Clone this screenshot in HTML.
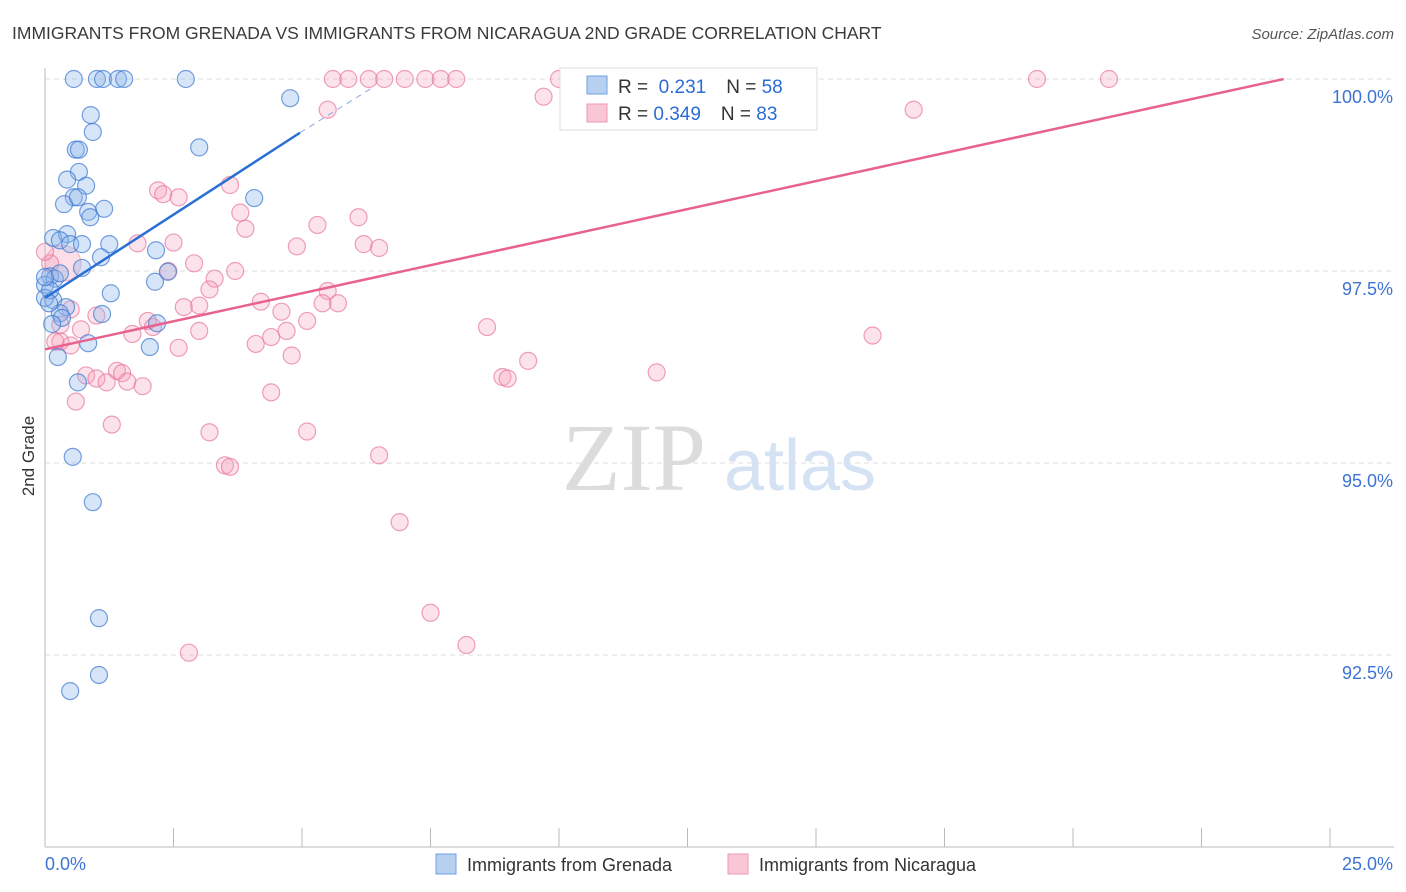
<!DOCTYPE html>
<html><head><meta charset="utf-8">
<style>
body{margin:0;background:#fff;font-family:"Liberation Sans",sans-serif;}
svg{display:block}
</style></head>
<body>
<svg id="chart" width="1406" height="892">
<text x="12" y="39" font-size="17.5" fill="#3a3a3a">IMMIGRANTS FROM GRENADA VS IMMIGRANTS FROM NICARAGUA 2ND GRADE CORRELATION CHART</text>
<text x="1394" y="39" font-size="15" fill="#555" text-anchor="end" font-style="italic">Source: ZipAtlas.com</text>
<text x="634" y="490" font-size="96" fill="#dcdcdc" font-family="Liberation Serif,serif" text-anchor="middle">ZIP</text>
<text x="800" y="490" font-size="72" fill="#d4e2f4" text-anchor="middle">atlas</text>
<g id="grid"></g><g id="axes"></g><g id="pts"></g><g id="lines"></g>
<text transform="translate(34,456) rotate(-90)" font-size="17" fill="#333" text-anchor="middle">2nd Grade</text>
<g>
<rect x="560" y="68" width="257" height="62" fill="#fff" stroke="#ddd"/>
<rect x="587" y="76" width="20" height="18" fill="#b8d0f0" stroke="#6f9fe0"/>
<rect x="587" y="104" width="20" height="18" fill="#f8c6d4" stroke="#ec9ab2"/>
<text x="618" y="93" font-size="19" fill="#333">R = <tspan fill="#2b6cd4">&#160;0.231</tspan><tspan dx="20">N = </tspan><tspan fill="#2b6cd4">58</tspan></text>
<text x="618" y="120" font-size="19" fill="#333">R = <tspan fill="#2b6cd4">0.349</tspan><tspan dx="20">N = </tspan><tspan fill="#2b6cd4">83</tspan></text>
</g>
<g>
<rect x="436" y="854" width="20" height="20" fill="#b8d0f0" stroke="#6f9fe0"/>
<text x="467" y="871" font-size="18" fill="#333">Immigrants from Grenada</text>
<rect x="728" y="854" width="20" height="20" fill="#f8c6d4" stroke="#ec9ab2"/>
<text x="759" y="871" font-size="18" fill="#333">Immigrants from Nicaragua</text>
</g>
</svg>
<script>
const xTicks=[0,2.5,5,7.5,10,12.5,15,17.5,20,22.5,25];
const yTicks=[100,97.5,95,92.5];
const yTickLabels=["100.0%","97.5%","95.0%","92.5%"];
const blueX=[0.56,1.01,1.13,1.42,1.54,2.74,4.77,0.89,0.93,0.60,0.66,3.00,0.66,0.43,0.80,0.56,0.37,0.64,1.15,0.84,0.88,4.07,0.16,0.43,0.29,0.49,0.72,1.25,2.16,1.09,0.72,2.39,0.10,0.19,0,2.14,1.28,0.16,0,0.41,0.29,1.11,0.33,0.14,2.18,0.84,2.04,0.25,0.64,0.54,0.93,1.05,0.49,1.05,0.10,0,0.29,0.08];
const blueY=[100,100,100,100,100,100,99.75,99.53,99.31,99.08,99.08,99.11,98.79,98.69,98.61,98.46,98.37,98.46,98.31,98.27,98.20,98.45,97.93,97.98,97.90,97.85,97.85,97.85,97.77,97.68,97.54,97.49,97.43,97.40,97.32,97.36,97.21,97.12,97.15,97.03,96.95,96.94,96.89,96.81,96.82,96.56,96.51,96.38,96.05,95.08,94.49,92.98,92.03,92.24,97.25,97.42,97.47,97.08];
const pinkX=[5.6,5.9,6.3,6.6,7.0,7.4,7.7,8.0,10.0,19.3,20.7,9.7,5.5,16.9,3.6,2.2,2.3,2.6,3.8,6.1,5.3,3.9,2.5,1.8,4.9,6.2,6.5,2.9,2.4,3.7,3.3,3.2,5.5,4.2,5.4,5.7,2.7,4.6,1.0,2.0,5.1,2.1,0.7,3.0,4.7,8.6,1.7,4.4,4.1,0.3,0.5,2.6,4.8,9.4,16.1,11.9,0.8,1.0,1.4,1.5,1.2,1.6,1.9,8.9,9.0,4.4,0.6,1.3,3.2,5.1,3.5,3.6,6.5,6.9,7.5,8.2,2.8,0.1,0.0,0.5,0.3,0.2,3.0];
const pinkY=[100,100,100,100,100,100,100,100,100,100,100,99.77,99.6,99.6,98.62,98.55,98.5,98.46,98.26,98.2,98.1,98.05,97.87,97.86,97.82,97.85,97.8,97.6,97.5,97.5,97.4,97.26,97.24,97.1,97.08,97.08,97.03,96.97,96.92,96.85,96.85,96.77,96.74,96.72,96.72,96.77,96.68,96.64,96.55,96.58,96.53,96.5,96.4,96.33,96.66,96.18,96.14,96.1,96.2,96.17,96.05,96.06,96.0,96.12,96.1,95.92,95.8,95.5,95.4,95.41,94.97,94.95,95.1,94.23,93.05,92.63,92.53,97.6,97.75,97.0,96.8,96.58,97.05];
const blueFit=[[0,97.15],[4.96,99.3]];
const blueDash=[[4.96,99.3],[6.4,99.9]];
const pinkFit=[[0,96.48],[24.1,100]];
const NS="http://www.w3.org/2000/svg";
const X0=45,X1=1330,Yt=79,Yb=847;
const sx=v=>X0+(v/25)*(X1-X0);
const sy=v=>Yt+(100-v)/10*(Yb-Yt);
function mk(tag,attrs,parent){const e=document.createElementNS(NS,tag);for(const k in attrs)e.setAttribute(k,attrs[k]);parent.appendChild(e);return e;}
const grid=document.getElementById('grid'),axes=document.getElementById('axes'),pts=document.getElementById('pts'),lines=document.getElementById('lines');
yTicks.forEach((t,i)=>{
 const g=mk('line',{x1:X0,x2:1394,y1:sy(t),y2:sy(t),stroke:'#ddd','stroke-dasharray':'5,4'},grid);
 
 
 const l=mk('text',{x:1393,y:sy(t)+24,'font-size':18,fill:'#3d74d4','text-anchor':'end'},axes);
 l.textContent=yTickLabels[i];
 
 
});
const ya=mk('line',{x1:X0,x2:X0,y1:68,y2:Yb,stroke:'#bbb'},axes);


const xa=mk('line',{x1:X0,x2:1394,y1:Yb,y2:Yb,stroke:'#bbb'},axes);


xTicks.forEach(t=>{const tk=mk('line',{x1:sx(t),x2:sx(t),y1:828,y2:Yb,stroke:'#bbb'},axes);
 
 });
const xl0=mk('text',{x:45,y:870,'font-size':18,fill:'#3d74d4'},axes);xl0.textContent='0.0%';


const xl1=mk('text',{x:1393,y:870,'font-size':18,fill:'#3d74d4','text-anchor':'end'},axes);xl1.textContent='25.0%';


const bigp=mk('circle',{cx:sx(0.35),cy:sy(97.6),r:18,fill:'rgba(244,160,185,0.35)',stroke:'rgba(232,120,155,0.5)'},pts);


pinkX.forEach((x,i)=>{const c=mk('circle',{cx:sx(x),cy:sy(pinkY[i]),r:8.5,fill:'rgba(244,160,185,0.3)',stroke:'rgba(232,120,155,0.7)','stroke-width':1.2},pts);
 
 });
blueX.forEach((x,i)=>{const c=mk('circle',{cx:sx(x),cy:sy(blueY[i]),r:8.5,fill:'rgba(140,180,235,0.35)',stroke:'rgba(60,120,210,0.7)','stroke-width':1.2},pts);
 
 });
const pl=mk('line',{x1:sx(pinkFit[0][0]),y1:sy(pinkFit[0][1]),x2:sx(pinkFit[1][0]),y2:sy(pinkFit[1][1]),stroke:'#e8628f','stroke-width':2.5},lines);


const bl=mk('line',{x1:sx(blueFit[0][0]),y1:sy(blueFit[0][1]),x2:sx(blueFit[1][0]),y2:sy(blueFit[1][1]),stroke:'#2a6fd6','stroke-width':2.5},lines);


const bd=mk('line',{x1:sx(blueDash[0][0]),y1:sy(blueDash[0][1]),x2:sx(blueDash[1][0]),y2:sy(blueDash[1][1]),stroke:'#8aa8e0','stroke-width':1,'stroke-dasharray':'6,5'},lines);


</script>
</body></html>
